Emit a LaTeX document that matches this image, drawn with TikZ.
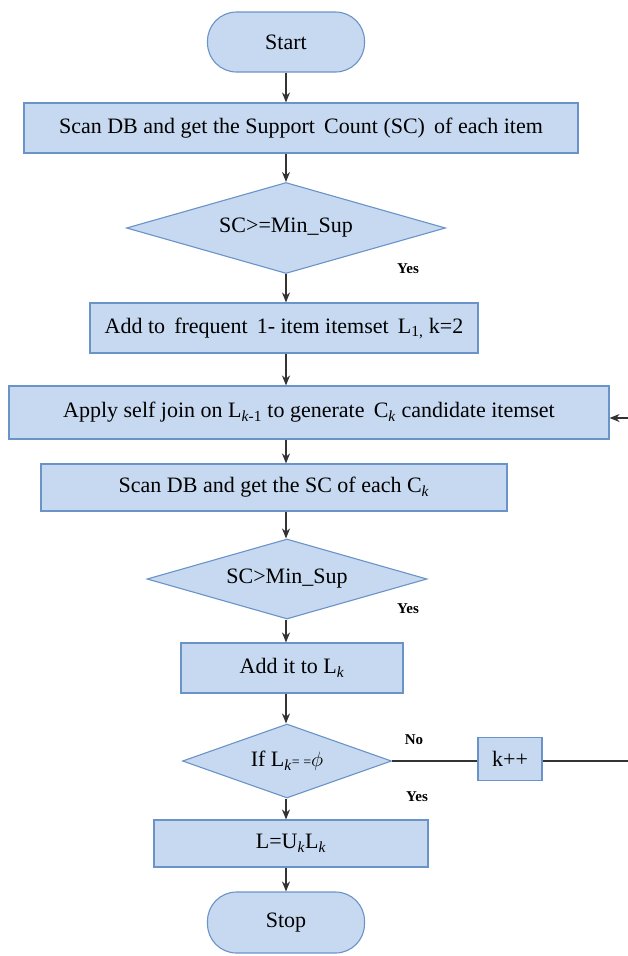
\documentclass[tikz,border=0pt]{standalone}
\usepackage{fontspec}
\setmainfont{Liberation Serif}
\usetikzlibrary{shapes.geometric,arrows.meta}
\definecolor{boxfill}{HTML}{C6D9F0}
\definecolor{boxline}{HTML}{6A93C8}
\definecolor{conn}{HTML}{333333}
\begin{document}
\begin{tikzpicture}[x=1pt,y=-1pt,
 base/.style={draw=boxline, fill=boxfill, line width=1.1pt, inner sep=0pt, text=black, font=\fontsize{22}{26}\selectfont},
 proc/.style={base, rectangle},
 term/.style={base, rectangle, rounded corners=29pt},
 dec/.style={base, diamond},
 lbl/.style={font=\bfseries\fontsize{15}{17}\selectfont, inner sep=0pt},
 arr/.style={-{Stealth[length=10pt,width=8pt]}, line width=1.1pt, draw=conn},
 ln/.style={line width=1.3pt, draw=conn}
]
\useasboundingbox (0,0) rectangle (627,956);
\coordinate (sp) at (286,0);
\node[term, minimum width=157, minimum height=60] (start) at (286,42) {Start};
\node[proc, minimum width=554, minimum height=50] (scan) at (301,128) {Scan DB and get the Support\, Count (SC)\, of each item};
\node[dec, aspect=3.5, minimum width=319, minimum height=91] (d1) at (286,228) {SC>=Min\_Sup};
\node[proc, minimum width=388, minimum height=50] (add1) at (284,328) {Add to\, frequent\, 1- item itemset\, L\textsubscript{1,} k=2};
\node[proc, minimum width=600, minimum height=53] (apply) at (309,412.5) {Apply self join on L\textsubscript{\textit{k}-1} to generate\, C\textsubscript{\textit{k}} candidate itemset};
\node[proc, minimum width=466, minimum height=47] (scan2) at (274,487.5) {Scan DB and get the SC of each C\textsubscript{\textit{k}}};
\node[dec, aspect=3.5, minimum width=280, minimum height=80] (d2) at (287,579) {SC>Min\_Sup};
\node[proc, minimum width=222, minimum height=50] (add2) at (292,668) {Add it to L\textsubscript{\textit{k}}};
\node[dec, aspect=2.82, minimum width=209, minimum height=74] (d3) at (287,761) {If L\textsubscript{\textit{k}}{\fontsize{14}{16}\selectfont= =}$\phi$};
\node[proc, minimum width=64, minimum height=43] (kpp) at (510,759) {k++};
\node[proc, minimum width=274, minimum height=47] (res) at (291,843.5) {L=U\textsubscript{\textit{k}}L\textsubscript{\textit{k}}};
\node[term, minimum width=157, minimum height=61] (stop) at (286,922.5) {Stop};

\node[lbl] (y1) at (408,269) {Yes};
\node[lbl] (y2) at (408,609) {Yes};
\node[lbl] (n3) at (414,740) {No};
\node[lbl] (y3) at (417,797) {Yes};

\draw[arr] (sp |- start.south) -- (sp |- scan.north);
\draw[arr] (sp |- scan.south) -- (d1.north);
\draw[arr] (d1.south) -- (sp |- add1.north);
\draw[arr] (sp |- add1.south) -- (sp |- apply.north);
\draw[arr] (sp |- apply.south) -- (sp |- scan2.north);
\draw[arr] (sp |- scan2.south) -- (sp |- d2.north);
\draw[arr] (sp |- d2.south) -- (sp |- add2.north);
\draw[arr] (sp |- add2.south) -- (sp |- d3.north);
\draw[arr] (sp |- d3.south) -- (sp |- res.north);
\draw[arr] (sp |- res.south) -- (sp |- stop.north);

\coordinate (r1) at (634,761);
\coordinate (r2) at (634,418);
\draw[ln] (d3.east) -- (kpp.west |- d3.east);
\draw[ln] (kpp.east |- d3.east) -- (r1) -- (r2);
\draw[arr] (r2) -- (apply.east |- r2);
\end{tikzpicture}
\end{document}
